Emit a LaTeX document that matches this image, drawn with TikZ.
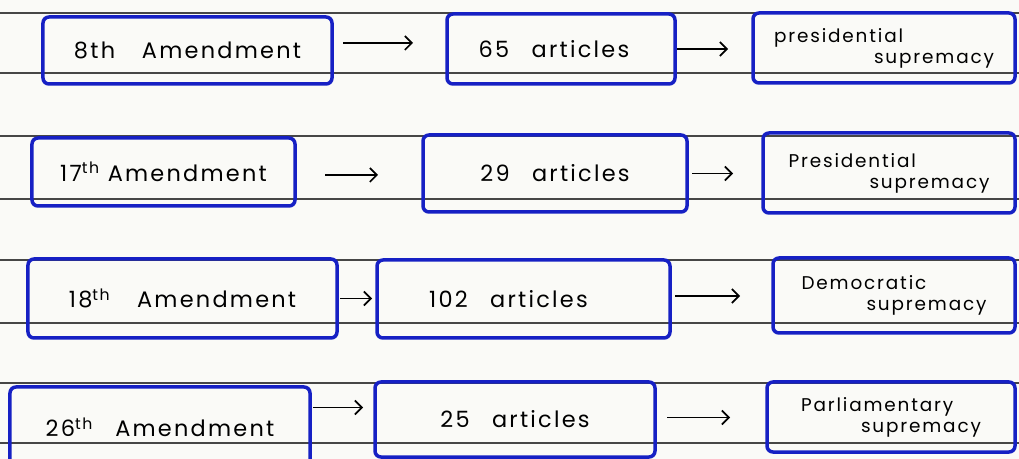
\documentclass[tikz,border=0pt]{standalone}
\usepackage{fontspec}
\setmainfont{Poppins}[LetterSpace=10]
\usepackage{xcolor}
\usetikzlibrary{arrows.meta}

\definecolor{inkblue}{RGB}{22,32,196}
\definecolor{paper}{RGB}{250,250,247}
\definecolor{ruling}{RGB}{70,70,70}

\begin{document}
\begin{tikzpicture}[
    x=1bp, y=-1bp,
    box/.style={rectangle, draw=inkblue, line width=3.5bp, rounded corners=6bp, inner sep=0pt, outer sep=0pt, font=\fontsize{22.5}{24}\selectfont},
    result/.style={box, align=left, font=\fontsize{18.5}{21}\selectfont},
    arrow/.style={-{Straight Barb[length=7bp,width=14bp,line width=1.6bp]}, line width=1.5bp, black}
]

% Paper
\fill[paper] (0,0) rectangle (1019,459);
\clip (0,0) rectangle (1019,459);
\draw[ruling, line width=1.3bp]
    (0,13) -- (1019,13)   (0,73) -- (1019,73)
    (0,136) -- (1019,136) (0,199) -- (1019,199)
    (0,260) -- (1019,260) (0,323) -- (1019,323)
    (0,383) -- (1019,383) (0,443) -- (1019,443);

% Row 1
\node[box, minimum width=289bp, minimum height=67bp] (a8) at (187.5,50.5) {8th\hspace{1.2em}Amendment};
\node[box, minimum width=228bp, minimum height=70bp] (b8) at (561,49) {65\quad articles\hspace*{14bp}};
\node[result, minimum width=262bp, minimum height=70bp] (c8) at (884,48) {presidential\\\hspace*{100bp}supremacy};

% Row 2
\node[box, minimum width=263bp, minimum height=68bp] (a17) at (163.5,172) {17\textsuperscript{th} Amendment};
\node[box, minimum width=264bp, minimum height=77bp] (b17) at (555,173.5) {29\quad articles};
\node[result, minimum width=252bp, minimum height=80bp] (c17) at (889,173) {Presidential\\\hspace*{81bp}supremacy};

% Row 3
\node[box, minimum width=309bp, minimum height=79bp] (a18) at (182.5,298.5) {18\textsuperscript{th}\hspace{1.2em}Amendment};
\node[box, minimum width=293bp, minimum height=78bp] (b18) at (523.5,299) {102\quad articles\hspace*{30bp}};
\node[result, minimum width=242bp, minimum height=75bp] (c18) at (894,295.5) {Democratic\\\hspace*{65bp}supremacy};

% Row 4
\node[box, minimum width=300bp, minimum height=81bp] (a26) at (160,427.5) {26\textsuperscript{th}\quad Amendment};
\node[box, minimum width=280bp, minimum height=75bp] (b26) at (515,419.5) {25\quad articles};
\node[result, minimum width=248bp, minimum height=70bp] (c26) at (891,417) {Parliamentary\\\hspace*{60bp}supremacy};

% Arrows
\draw[arrow, shorten <=11bp, shorten >=34bp] ([yshift=7.5bp]a8.east) -- ([yshift=7.5bp]a8.east -| b8.west);
\draw[arrow, shorten <=2bp, shorten >=25bp] (b8.east) -- (b8.east -| c8.west);
\draw[arrow, shorten <=30bp, shorten >=45bp] ([yshift=-3bp]a17.east) -- ([yshift=-3bp]a17.east -| b17.west);
\draw[arrow, shorten <=5bp, shorten >=30bp] (b17.east) -- (b17.east -| c17.west);
\draw[arrow, shorten <=3bp, shorten >=5bp] (a18.east) -- (a18.east -| b18.west);
\draw[arrow, shorten <=5bp, shorten >=33bp] ([yshift=3bp]b18.east) -- ([yshift=3bp]b18.east -| c18.west);
\draw[arrow, shorten <=3bp, shorten >=12bp] ([yshift=20bp]a26.east) -- ([yshift=20bp]a26.east -| b26.west);
\draw[arrow, shorten <=12bp, shorten >=37bp] ([yshift=2bp]b26.east) -- ([yshift=2bp]b26.east -| c26.west);

\end{tikzpicture}
\end{document}
